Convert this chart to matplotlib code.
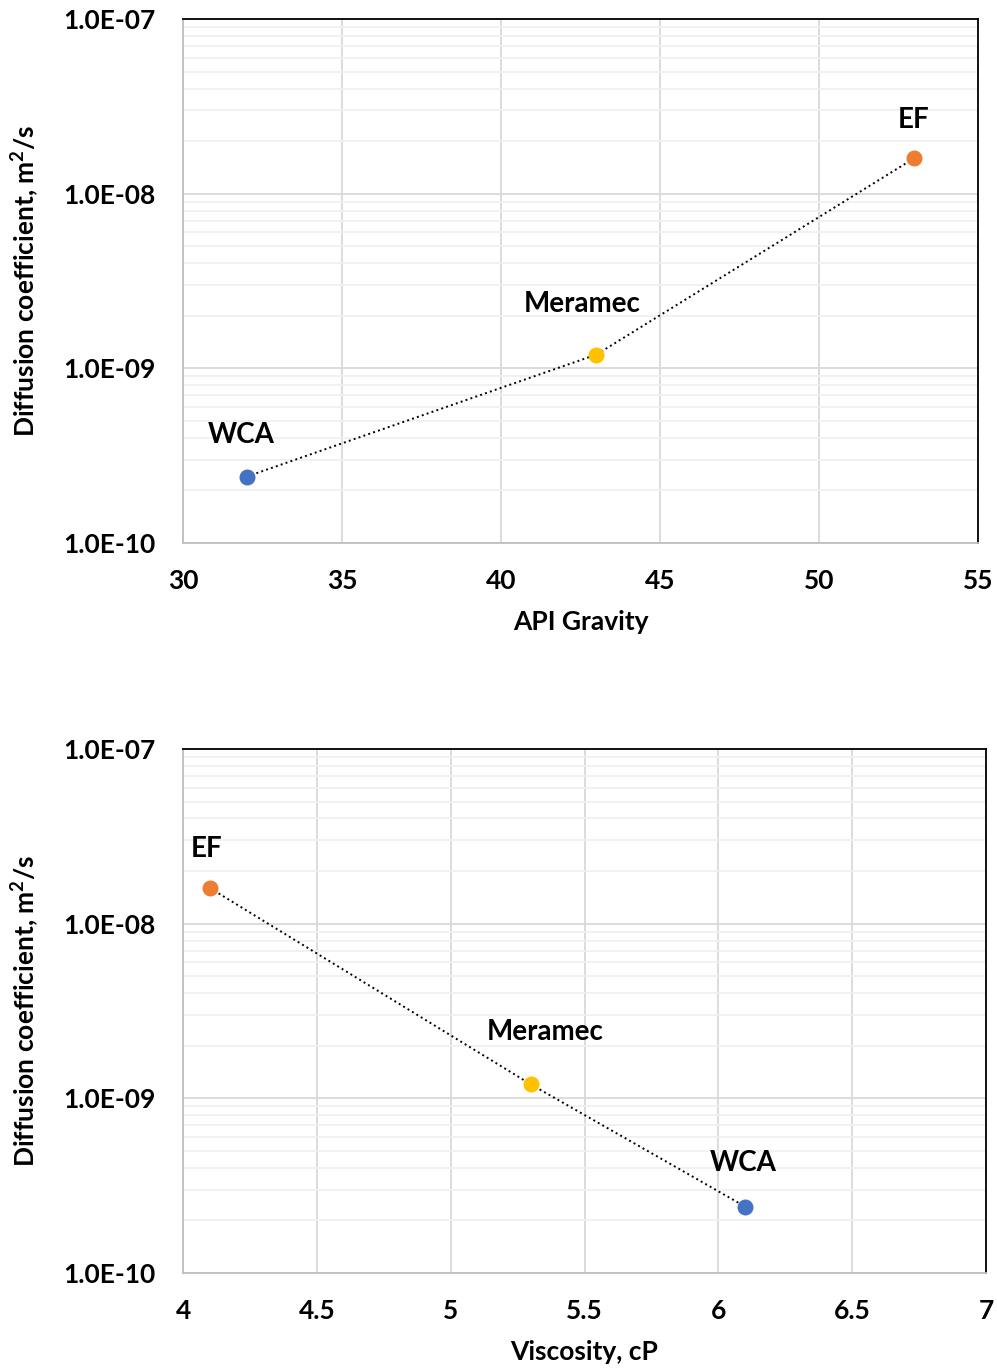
import numpy as np
import matplotlib
matplotlib.use("Agg")
import matplotlib.pyplot as plt
from matplotlib import font_manager
from matplotlib.ticker import LogLocator, FixedLocator, FuncFormatter

# pick the first family that actually ships a bold face
bold_fams = {f.name for f in font_manager.fontManager.ttflist
             if f.weight in (600, 700, 800, 'bold', 'semibold', 'demibold')}
fam = next((f for f in ['Lato', 'Open Sans', 'Noto Sans', 'Liberation Sans'] if f in bold_fams),
           'DejaVu Sans')
plt.rcParams['font.family'] = [fam, 'DejaVu Sans']
plt.rcParams['font.weight'] = 'bold'
plt.rcParams['mathtext.fontset'] = 'custom'
plt.rcParams['mathtext.bf'] = fam + ':bold'

# crude oil samples
names = ["WCA", "Meramec", "EF"]
api_gravity = [32, 43, 53]
viscosity = [6.1, 5.3, 4.1]
diff_coef = [2.4e-10, 1.2e-9, 1.6e-8]
colors = ["#4472C4", "#FFC000", "#ED7D31"]

# label offsets in pixels (dx, dy) for each plot
offs_api = [(-5, 42), (-14, 51), (-1, 38)]
offs_visc = [(-2, 44), (14, 52), (-3, 39)]

api_ticks = [30, 35, 40, 45, 50, 55]
visc_ticks = [4, 4.5, 5, 5.5, 6, 6.5, 7]

fig = plt.figure(figsize=(9.97, 13.71), dpi=100)
ax1 = fig.add_axes([0.1836, 0.6039, 0.7974, 0.3822])
ax2 = fig.add_axes([0.1836, 0.0715, 0.8054, 0.3822])


def style_ax(ax, x, xticks, xlabel, offs, fmt):
    # dotted trend through the points, sorted by x
    order = np.argsort(x)
    ax.plot(np.array(x)[order], np.array(diff_coef)[order], ':', color='black',
            lw=1.4, zorder=2)
    for xi, yi, c, n, o in zip(x, diff_coef, colors, names, offs):
        ax.plot(xi, yi, 'o', color=c, markersize=10.5, zorder=3)
        ax.annotate(n, (xi, yi), xytext=o, textcoords='offset pixels',
                    ha='center', va='center', fontsize=20, fontweight='bold')
    ax.set_yscale('log')
    ax.set_ylim(1e-10, 1e-7)
    ax.set_xlim(xticks[0], xticks[-1])
    ax.xaxis.set_major_locator(FixedLocator(xticks))
    ax.xaxis.set_major_formatter(FuncFormatter(fmt))
    ax.yaxis.set_major_locator(LogLocator(base=10, numticks=10))
    ax.yaxis.set_minor_locator(LogLocator(base=10, subs=np.arange(2, 10), numticks=20))
    ax.yaxis.set_major_formatter(FuncFormatter(lambda v, p: "%.1fE-%02d" % (1.0, round(-np.log10(v)))))
    ax.yaxis.set_minor_formatter(FuncFormatter(lambda v, p: ""))
    ax.grid(True, which='major', color='#d9d9d9', lw=1.3)
    ax.grid(True, which='minor', axis='y', color='#f0f0f0', lw=1.3)
    ax.set_axisbelow(True)
    ax.tick_params(which='both', length=0, labelsize=19)
    ax.tick_params(axis='x', pad=19)
    ax.tick_params(axis='y', pad=20)
    for t in ax.get_xticklabels() + ax.get_yticklabels():
        t.set_fontweight('bold')
    for s in ['left', 'bottom']:
        ax.spines[s].set_color('#bfbfbf')
        ax.spines[s].set_linewidth(1.3)
    for s in ['top', 'right']:
        ax.spines[s].set_color('black')
        ax.spines[s].set_linewidth(1.3)
    ax.set_xlabel(xlabel, fontsize=19, fontweight='bold', labelpad=12)
    ax.set_ylabel("Diffusion coefficient, m$^\\mathbf{2}$/s", fontsize=19,
                  fontweight='bold', labelpad=16)


style_ax(ax1, api_gravity, api_ticks, "API Gravity", offs_api, lambda v, p: "%d" % v)
style_ax(ax2, viscosity, visc_ticks, "Viscosity, cP", offs_visc, lambda v, p: "%g" % v)

plt.savefig("out.png", dpi=100)
